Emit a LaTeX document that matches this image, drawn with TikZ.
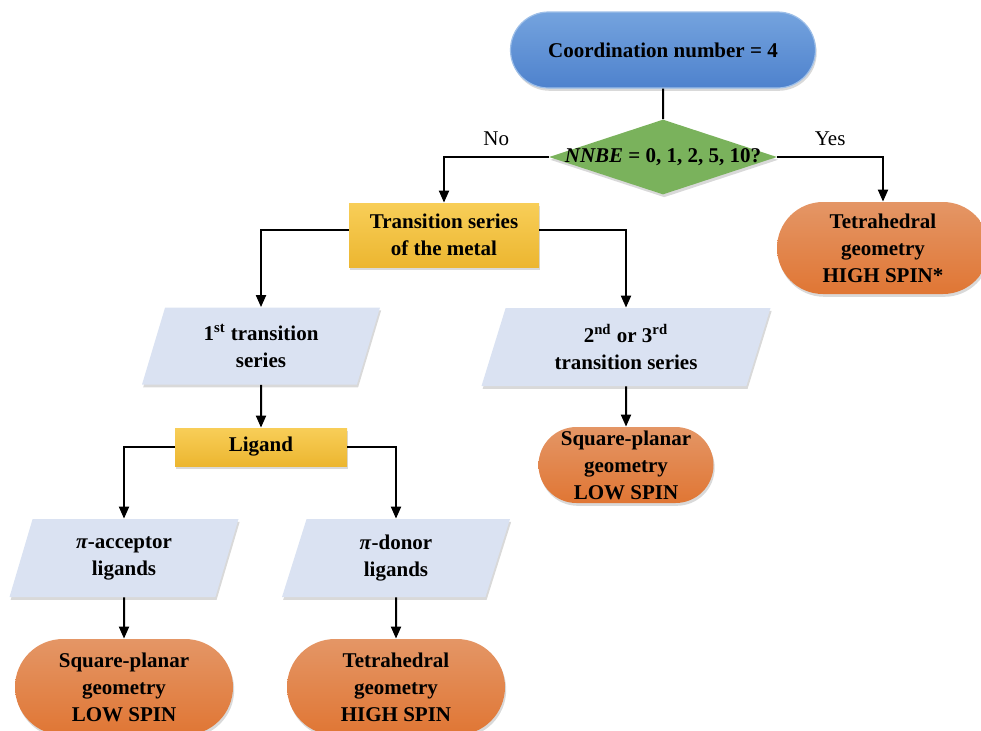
\documentclass[tikz,border=0pt]{standalone}
\usepackage{fontspec}
\setmainfont{Liberation Serif}
\usetikzlibrary{shapes.geometric,shapes.misc,shadows,arrows.meta}

\definecolor{blueTop}{RGB}{116,163,222}
\definecolor{blueBot}{RGB}{78,130,205}
\definecolor{greenFill}{RGB}{122,178,92}
\definecolor{yellowTop}{RGB}{248,206,88}
\definecolor{yellowBot}{RGB}{236,182,48}
\definecolor{parBlue}{RGB}{218,226,242}
\definecolor{orangeTop}{RGB}{228,150,102}
\definecolor{orangeBot}{RGB}{224,118,52}

\begin{document}
\begin{tikzpicture}[x=0.5pt,y=-0.5pt,
  font=\bfseries\fontsize{10.5}{13.5}\selectfont,
  shade/.style={drop shadow={shadow xshift=0.6pt,shadow yshift=-1.4pt,opacity=0.3}},
  box/.style={shade,inner sep=0pt,align=center},
  start/.style={box,rounded rectangle,top color=blueTop,bottom color=blueBot,
    draw=blueTop!70!white,line width=0.6pt},
  result/.style={box,rounded rectangle,top color=orangeTop,bottom color=orangeBot},
  choice/.style={box,diamond,fill=greenFill},
  stepbox/.style={box,rectangle,top color=yellowTop,bottom color=yellowBot},
  series/.style={box,trapezium,trapezium left angle=62,trapezium right angle=118,
    trapezium stretches body,fill=parBlue},
  link/.style={line width=1pt},
  arrow/.style={link,-{Triangle[length=6pt,width=5pt]}},
  answer/.style={font=\fontsize{10.5}{13.5}\selectfont,above=2pt}]
\useasboundingbox (0,0) rectangle (981,730);

\node[start,minimum width=152.5pt,minimum height=38pt] (cn) at (663,50) {Coordination number = 4};
\node[choice,minimum width=114pt,minimum height=37.5pt,
  label={center:\textit{NNBE} = 0, 1, 2, 5, 10?}] (nnbe) at (663,157) {};
\node[result,minimum width=106pt,minimum height=46pt] (tetra1) at (883,248)
  {Tetrahedral\\geometry\\HIGH SPIN*};
\node[stepbox,minimum width=95pt,minimum height=32pt] (metal) at (444,235)
  {Transition series\\of the metal};
\node[series,minimum width=119pt,minimum height=38.5pt] (first) at (261,346)
  {1\textsuperscript{st} transition\\series};
\node[series,minimum width=144.5pt,minimum height=39pt] (second) at (626,347)
  {2\textsuperscript{nd} or 3\textsuperscript{rd}\\transition series};
\node[result,minimum width=87.5pt,minimum height=38pt] (sqp2) at (626,465)
  {Square-planar\\geometry\\LOW SPIN};
\node[stepbox,minimum width=86pt,minimum height=19pt] (ligand) at (261,447) {Ligand};
\node[series,minimum width=114.5pt,minimum height=39pt] (acceptor) at (124,558)
  {\textit{π}-acceptor\\ligands};
\node[series,minimum width=114pt,minimum height=39pt] (donor) at (396,558)
  {\textit{π}-donor\\ligands};
\node[result,minimum width=109pt,minimum height=48pt] (sqp1) at (124,687)
  {Square-planar\\geometry\\LOW SPIN};
\node[result,minimum width=109pt,minimum height=48pt] (tetra2) at (396,687)
  {Tetrahedral\\geometry\\HIGH SPIN};

\draw[link] (cn) -- (nnbe);
\draw[arrow] (nnbe.west) -| node[answer,pos=0.25] {No} (metal.north);
\draw[arrow] (nnbe.east) -| node[answer,pos=0.25] {Yes} (tetra1.north);
\draw[arrow] ([yshift=2.5pt]metal.west) -| (first.north);
\draw[arrow] ([yshift=2.5pt]metal.east) -| (second.north);
\draw[arrow] (first) -- (ligand);
\draw[arrow] (second) -- (sqp2);
\draw[arrow] (ligand.west) -| (acceptor.north);
\draw[arrow] (ligand.east) -| (donor.north);
\draw[arrow] (acceptor) -- (sqp1);
\draw[arrow] (donor) -- (tetra2);
\end{tikzpicture}
\end{document}
